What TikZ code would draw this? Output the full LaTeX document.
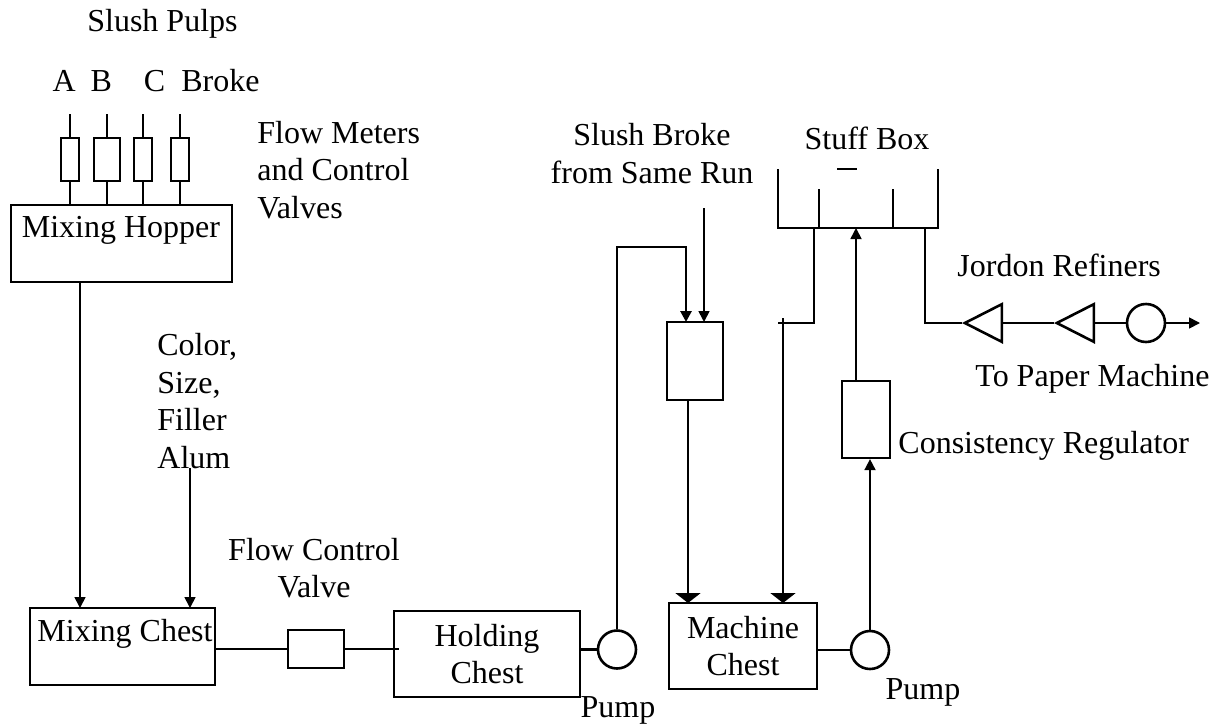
\documentclass[tikz,border=0pt]{standalone}
\usepackage{fontspec}
\setmainfont{Liberation Serif}
\usepackage{xcolor}
\usepackage{tikz}
\usetikzlibrary{arrows.meta,shapes.geometric}
\definecolor{ink}{HTML}{000000}
\tikzset{fig/.style={line join=miter,x=0.5pt,y=-0.5pt,ink,font=\fontsize{16pt}{18.7pt}\selectfont},
  tag/.style={align=center,inner sep=0pt},
  tagl/.style={align=left,inner sep=0pt},
  chest/.style={draw,line width=1.1pt,inner sep=0pt},
  pump/.style={draw,circle,line width=1.3pt,inner sep=0pt,minimum size=19pt},
  refiner/.style={draw,isosceles triangle,isosceles triangle apex angle=54,shape border rotate=180,line width=1.3pt,inner sep=0pt,minimum height=18.5pt,anchor=apex},
  pipe/.style={line width=1.45pt},
  feed/.style={line width=0.85pt,-{Triangle[length=5.5pt,width=5.5pt]}},
  main/.style={line width=1.1pt,-{Triangle[length=5pt,width=12.5pt]}}}
\begin{document}
\begin{tikzpicture}[fig]
  \useasboundingbox (0,0) rectangle (1224,723);
  % top left
  \node[tag] (pulps) at (162.5,24) {Slush Pulps};
  \node[tag] (names) at (156,81) {A\hspace{7.5pt}B\hspace{16pt}C\hspace{8pt}Broke};
  \node[chest,minimum width=110.5pt,minimum height=38.5pt] (hopper) at (121.5,243.5) {};
  \node[tag] (hoppertag) at (121,230) {Mixing Hopper};
  \foreach \n/\x/\w in {1/70/9,2/107/13,3/143/9,4/180/9}{
    \node[chest,line width=1.3pt,minimum width=\w pt,minimum height=21.5pt] (v\n) at (\x,159.5) {};
    \coordinate (t\n) at (\x,114);
    \draw[pipe] (t\n) -- (v\n.north);
    \draw[pipe] (v\n.south) -- (v\n.south |- hopper.north);
  }
  \node[tagl,anchor=west] (meters) at (257,170) {Flow Meters\\and Control\\Valves};
  \node[tagl,anchor=west] (additives) at (157,401) {Color,\\Size,\\Filler\\Alum};
  % bottom row
  \node[chest,minimum width=92.5pt,minimum height=38.5pt] (mixchest) at (122.5,646.5) {};
  \node[tag] (mixtag) at (125,633.5) {Mixing Chest};
  \node[chest,minimum width=28pt,minimum height=19pt] (valve) at (316,649) {};
  \node[tag] (valvetag) at (314,568) {Flow Control\\Valve};
  \node[chest,minimum width=93pt,minimum height=43pt,align=center] (holding) at (487,654) {Holding\\Chest};
  \node[pump] (pump1) at (617,649.5) {};
  \node[tag] (pump1tag) at (618,710.5) {Pump};
  \node[chest,minimum width=74pt,minimum height=43pt,align=center] (machine) at (743,646) {Machine\\Chest};
  \node[pump] (pump2) at (870,650) {};
  \node[tag] (pump2tag) at (923,692.5) {Pump};
  % flows into mixing chest
  \coordinate (a1) at (80,608);
  \coordinate (a2) at (190,608);
  \coordinate (s2) at (190,468);
  \draw[feed] (a1 |- hopper.south) -- (a1);
  \draw[feed] (s2) -- (a2);
  \draw[pipe] (mixchest.east |- valve.west) -- (valve.west);
  \coordinate (h1) at (399,649);
  \draw[pipe] (valve.east) -- (h1);
  \draw[pipe] (holding.east |- pump1.west) -- (pump1.west);
  % broke box
  \node[chest,line width=1.3pt,minimum width=28pt,minimum height=39pt] (brokebox) at (695,361) {};
  \node[tag] (broketag) at (652,153.5) {Slush Broke\\from Same Run};
  \coordinate (b1) at (686,322);
  \coordinate (b2) at (704,322);
  \coordinate (s1) at (704,208);
  \draw[pipe,-{Triangle[length=5.5pt,width=5.5pt]}] (pump1.north) |- (686,247) -- (b1);
  \draw[feed] (s1) -- (b2);
  \coordinate (m1) at (688,603);
  \coordinate (m2) at (783,603);
  \coordinate (s3) at (783,318);
  \draw[main] (m1 |- brokebox.south) -- (m1);
  \draw[main] (s3) -- (m2);
  % stuff box
  \node[tag] (stufftag) at (867,138) {Stuff Box};
  \draw[line width=1.1pt] (778,169) -- (778,228) -- (938,228) -- (938,169);
  \draw[line width=1.1pt] (819,189) -- (819,228) (893,189) -- (893,228);
  \coordinate (d1) at (837,169);
  \coordinate (d2) at (857,169);
  \draw[line width=0.9pt] (d1) -- (d2);
  \draw[pipe] (778,323) -- (814,323) -- (814,228);
  % regulator
  \node[chest,minimum width=24pt,minimum height=38.5pt] (regbox) at (866,419.5) {};
  \node[tagl,anchor=west] (regtag) at (898,446) {Consistency Regulator};
  \coordinate (r1) at (856,228);
  \draw[feed] (r1 |- regbox.north) -- (r1);
  \draw[pipe] (machine.east |- pump2.west) -- (pump2.west);
  \draw[feed] (pump2.north) -- (pump2.north |- regbox.south);
  % refiners
  \node[tagl,anchor=west] (jordontag) at (957,265) {Jordon Refiners};
  \node[refiner] (jr1) at (962,323) {};
  \node[refiner] (jr2) at (1054,323) {};
  \node[pump] (pump3) at (1146,323) {};
  \coordinate (out) at (1200,323);
  \node[tagl,anchor=west] (papertag) at (975,379) {To Paper Machine};
  \draw[pipe] (925,228) -- (925,323) -- (jr1.apex);
  \draw[pipe] (jr1.lower side) -- (jr2.apex);
  \draw[pipe] (jr2.lower side) -- (pump3.west);
  \draw[feed] (pump3.east) -- (out);
\end{tikzpicture}
\end{document}
